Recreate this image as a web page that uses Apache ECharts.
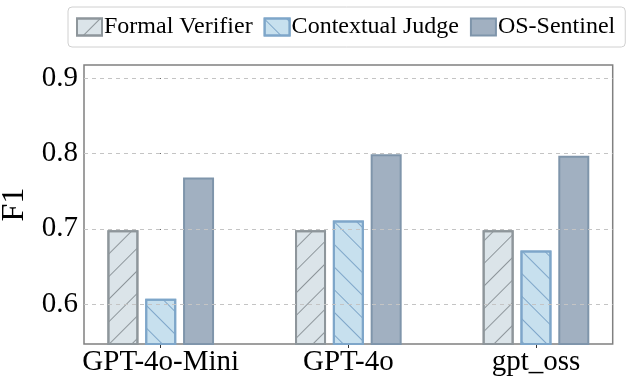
<!DOCTYPE html>
<html>
<head>
<meta charset="utf-8">
<script src="https://cdn.jsdelivr.net/npm/echarts@6/dist/echarts.min.js"></script>
<style>html,body{margin:0;padding:0;background:#fff}#c{width:635px;height:386px}</style>
</head>
<body>
<div id="c"></div>
<script>
const categories = ['GPT-4o-Mini', 'GPT-4o', 'gpt_oss'];
const seriesNames = ['Formal Verifier', 'Contextual Judge', 'OS-Sentinel'];
const formalVerifier = [0.698, 0.698, 0.698];
const contextualJudge = [0.607, 0.711, 0.671];
const osSentinel = [0.768, 0.799, 0.797];
const yTicks = [0.6, 0.7, 0.8, 0.9];

const FONT = 'Liberation Serif';
const chart = echarts.init(document.getElementById('c'), null, {renderer: 'canvas'});
const toPts = arr => arr.map((v, i) => [i, v]);

const styles = [
  {fill: '#dbe4e9', border: '#8e969b', decal: {symbol: 'rect', symbolSize: 1, dashArrayX: [1, 0], dashArrayY: [1, 15], rotation: -Math.PI / 4, color: '#8e969b'}},
  {fill: '#c7e0ee', border: '#7ea6c9', decal: {symbol: 'rect', symbolSize: 1, dashArrayX: [1, 0], dashArrayY: [1, 15], rotation: Math.PI / 4, color: '#7ea6c9'}},
  {fill: '#a1b0c1', border: '#7f95ab', decal: null}
];
const dataSets = [formalVerifier, contextualJudge, osSentinel];

const barSeries = seriesNames.map((name, k) => ({
  name: name,
  type: 'bar',
  z: 3,
  barWidth: 31,
  barGap: '22%',
  data: toPts(dataSets[k]),
  itemStyle: Object.assign({
    color: styles[k].fill,
    borderColor: styles[k].border,
    borderWidth: 2
  }, styles[k].decal ? {decal: styles[k].decal} : {})
}));

const option = {
  animation: false,
  aria: {enabled: false, decal: {show: false}},
  legend: {
    data: seriesNames.map(n => ({name: n, icon: 'rect'})),
    left: 68,
    top: 7,
    padding: [8, 10, 8, 8],
    itemWidth: 25,
    itemHeight: 17,
    itemGap: 11,
    borderColor: '#d0d0d0',
    borderWidth: 1,
    borderRadius: 4,
    textStyle: {fontFamily: FONT, fontSize: 24, color: '#000', padding: [0, 0, 0, -3]}
  },
  grid: {
    left: 84, right: 22.3, top: 65, bottom: 42,
    outerBoundsMode: 'none',
    containLabel: false,
    show: true, borderColor: '#808080', borderWidth: 1.5, backgroundColor: 'transparent'
  },
  xAxis: {
    type: 'value',
    min: -0.409,
    max: 2.409,
    splitLine: {show: false},
    axisLine: {show: false},
    axisTick: {show: true, customValues: [0, 1, 2], length: 4, lineStyle: {color: '#333', width: 1}},
    axisLabel: {
      customValues: [0, 1, 2],
      formatter: v => categories[Math.round(v)] || '',
      fontFamily: FONT, fontSize: 29, color: '#000', margin: 4
    }
  },
  yAxis: {
    type: 'value',
    min: 0.5468,
    max: 0.9177,
    name: 'F1',
    nameLocation: 'middle',
    nameGap: 52,
    nameTextStyle: {fontFamily: FONT, fontSize: 32, color: '#000'},
    splitLine: {show: false},
    axisLine: {show: false},
    axisTick: {show: true, customValues: yTicks, length: 4, lineStyle: {color: '#333', width: 1}},
    axisLabel: {
      customValues: yTicks,
      formatter: v => v.toFixed(1),
      fontFamily: FONT, fontSize: 29, color: '#000', margin: 6
    }
  },
  series: [
    {
      name: '_grid',
      type: 'line',
      data: [],
      z: 1,
      silent: true,
      markLine: {
        silent: true,
        symbol: ['none', 'none'],
        label: {show: false},
        lineStyle: {color: '#c4c4c4', width: 1, type: [4, 4]},
        data: yTicks.map(t => ({yAxis: t}))
      }
    }
  ].concat(barSeries)
};
chart.setOption(option);
</script>
</body>
</html>
